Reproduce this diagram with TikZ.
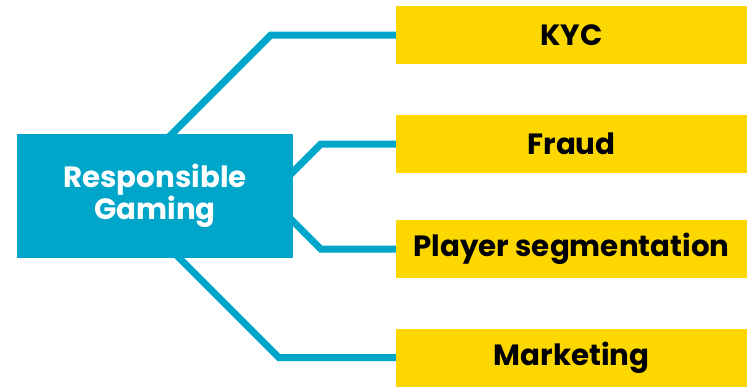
\documentclass[tikz,border=0pt]{standalone}
\usepackage{fontspec}
\setmainfont{Poppins}
\usetikzlibrary{backgrounds}
\definecolor{rgblue}{RGB}{0,166,202}
\definecolor{rgyellow}{RGB}{252,215,0}
\tikzset{
  hub/.style={fill=rgblue,text=white,minimum width=276pt,minimum height=124pt,
    align=center,font=\fontsize{29.3}{31}\selectfont\bfseries,inner sep=0pt},
  topic/.style={fill=rgyellow,minimum width=351pt,minimum height=58pt,
    font=\fontsize{29.3}{31}\selectfont\bfseries,inner sep=0pt},
  link/.style={draw=rgblue,line width=7pt}
}
\begin{document}
\begin{tikzpicture}[x=1pt,y=-1pt]
\useasboundingbox (0,0) rectangle (747,386);
\node[hub] (rg) at (155,196) {Responsible\\Gaming};
\node[topic] (kyc) at (571.5,35) {KYC};
\node[topic] (fraud) at (571.5,144) {Fraud};
\node[topic] (player) at (571.5,249) {Player segmentation};
\node[topic] (mkt) at (571.5,357.5) {Marketing};
% links sit behind the boxes
\begin{scope}[on background layer]
\draw[link] (kyc.west)--++(-125,0)--++(-104,104);
\draw[link] (fraud.west)--++(-75,0)--++(-34,34);
\draw[link] (player.west)--++(-75,0)--++(-34,-34);
\draw[link] (mkt.west)--++(-117,0)--++(-104,-104);
\end{scope}
\end{tikzpicture}
\end{document}
